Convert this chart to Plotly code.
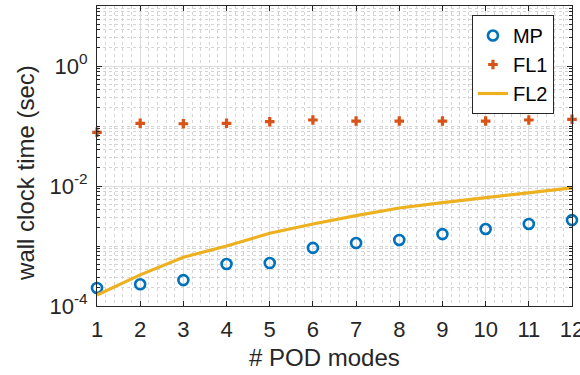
import plotly.graph_objects as go

modes = [1, 2, 3, 4, 5, 6, 7, 8, 9, 10, 11, 12]
mp = [2.0e-4, 2.3e-4, 2.7e-4, 5.0e-4, 5.2e-4, 9.3e-4, 1.12e-3, 1.26e-3, 1.58e-3, 1.92e-3, 2.33e-3, 2.7e-3]
fl1 = [0.0785, 0.111, 0.109, 0.111, 0.118, 0.126, 0.121, 0.121, 0.121, 0.121, 0.126, 0.129]
fl2 = [1.52e-4, 3.3e-4, 6.5e-4, 1.0e-3, 1.63e-3, 2.33e-3, 3.2e-3, 4.3e-3, 5.3e-3, 6.4e-3, 7.8e-3, 9.3e-3]

ytick_vals = [1e-4, 1e-2, 1e0]
ytick_text = ["10<sup>-4</sup>", "10<sup>-2</sup>", "10<sup>0</sup>"]
xlabel = "# POD modes"
ylabel = "wall clock time (sec)"

font = "Liberation Sans, Arial, Helvetica, sans-serif"
axcol = "#262626"

fig = go.Figure()
fig.add_trace(go.Scatter(x=modes, y=mp, mode="markers", name="MP", cliponaxis=False,
                         marker=dict(symbol="circle-open", size=10, color="#0072BD",
                                     line=dict(width=2.6, color="#0072BD"))))
fig.add_trace(go.Scatter(x=modes, y=fl1, mode="markers", name="FL1", cliponaxis=False,
                         marker=dict(symbol="cross", size=8, color="#D95319",
                                     line=dict(width=0))))
fig.add_trace(go.Scatter(x=modes, y=fl2, mode="lines", name="FL2",
                         line=dict(color="#EDB120", width=3.2)))

fig.update_layout(
    width=580, height=375,
    margin=dict(l=97, r=8, t=6, b=69, autoexpand=False),
    paper_bgcolor="white", plot_bgcolor="white",
    font=dict(family=font, size=22, color=axcol),
    showlegend=True,
    legend=dict(x=0.962, y=0.97, xanchor="right", yanchor="top",
                bgcolor="white", bordercolor=axcol, borderwidth=1,
                font=dict(size=20, color="#000000"), itemwidth=30,
                tracegroupgap=0),
    annotations=[
        dict(text=xlabel, xref="paper", yref="paper", x=0.479, y=-0.173,
             xanchor="center", yanchor="middle", showarrow=False,
             font=dict(size=24, color=axcol)),
        dict(text=ylabel, xref="paper", yref="paper", x=-0.152, y=0.443,
             xanchor="center", yanchor="middle", showarrow=False, textangle=-90,
             font=dict(size=24, color=axcol)),
    ],
)

fig.update_xaxes(
    range=[1, 12], tickmode="array", tickvals=modes, automargin=False,
    ticks="inside", ticklen=5, tickcolor=axcol, ticklabeloverflow="allow",
    ticklabelstandoff=4,
    showline=True, linecolor=axcol, linewidth=1, mirror="ticks",
    showgrid=True, gridcolor="#dcdcdc", gridwidth=1,
    zeroline=False,
    minor=dict(dtick=0.2, showgrid=True, gridcolor="#d4d4d4", griddash="dot", ticks=""),
    tickfont=dict(size=22),
)
fig.update_yaxes(
    type="log", range=[-4, 1], tickmode="array", tickvals=ytick_vals, ticktext=ytick_text,
    automargin=False,
    ticks="inside", ticklen=5, tickcolor=axcol, ticklabeloverflow="allow",
    ticklabelstandoff=4,
    showline=True, linecolor=axcol, linewidth=1, mirror="ticks",
    showgrid=True, gridcolor="#dcdcdc", gridwidth=1,
    zeroline=False,
    minor=dict(tickmode="array",
               tickvals=[m * 10 ** e for e in range(-4, 1) for m in range(2, 10)] + [10 ** e for e in range(-3, 2, 2)],
               showgrid=True, gridcolor="#d4d4d4", griddash="dot",
               ticks="inside", ticklen=3, tickcolor=axcol),
    tickfont=dict(size=22),
)

fig.write_html("out.html")
